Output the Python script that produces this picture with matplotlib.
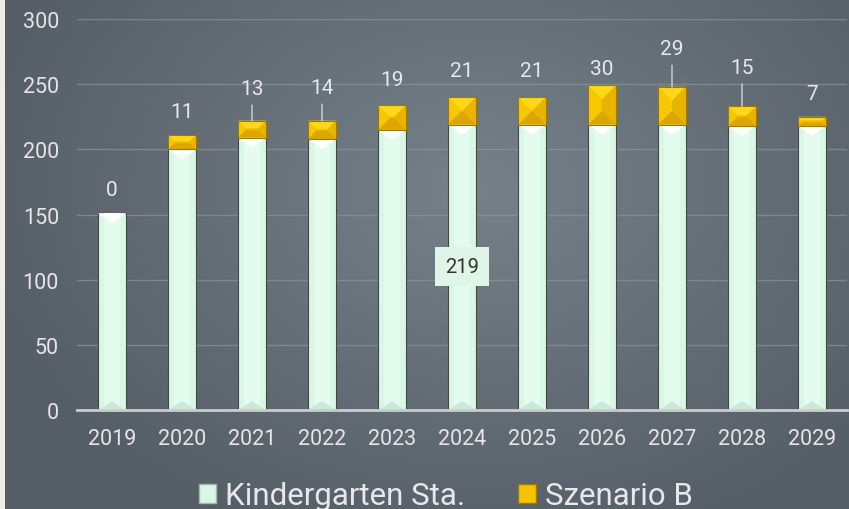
import numpy as np
import matplotlib.pyplot as plt
from matplotlib.patches import Polygon, Rectangle

jahre = ['2019', '2020', '2021', '2022', '2023', '2024', '2025', '2026', '2027', '2028', '2029']
kita = [151, 200, 209, 208, 215, 219, 219, 219, 219, 218, 218]
szenario_b = [0, 11, 13, 14, 19, 21, 21, 30, 29, 15, 7]
tooltip_jahr = '2024'

# label offsets above total (pixels) and which labels get a leader line
label_off = [24, 23, 32, 33, 26, 27, 27, 17, 38, 39, 23]
leader = [False, False, True, True, False, False, False, False, True, True, False]

plt.rcParams['font.family'] = ['Roboto', 'DejaVu Sans']

W, H = 849, 510
fig = plt.figure(figsize=(W / 100, H / 100), dpi=100)
fig.patch.set_facecolor('#eeede8')

# background gradient
bg = fig.add_axes([5 / W, 0, 1 - 5 / W, 1])
yy, xx = np.mgrid[0:H, 0:W - 5]
d = np.sqrt(((xx - 470) / 520.0) ** 2 + ((yy - 190) / 380.0) ** 2)
d = np.clip(d, 0, 1)
c0 = np.array([0x76, 0x81, 0x8a]) / 255
c1 = np.array([0x55, 0x5d, 0x66]) / 255
img = c0[None, None, :] * (1 - d[..., None]) + c1[None, None, :] * d[..., None]
bg.imshow(img, aspect='auto', extent=[0, 1, 0, 1])
bg.set_axis_off()

ax = fig.add_axes([77 / W, (H - 411) / H, 770 / W, 391 / H])
ax.set_facecolor('none')
ax.set_xlim(-0.5, len(jahre) - 0.5)
ax.set_ylim(0, 300)

px_x = 770 / len(jahre)   # pixels per x unit
px_y = 391 / 300          # pixels per y unit
bw = 0.4

x = np.arange(len(jahre))
ax.bar(x, kita, width=bw, color='#d9f7e4', edgecolor='#3e4a43', linewidth=0.8, zorder=3)
ax.bar(x, szenario_b, width=bw, bottom=kita, color='#f2bd00', edgecolor='#9c7a00',
       linewidth=0.8, zorder=3)

for i in range(len(jahre)):
    x0, x1 = i - bw / 2, i + bw / 2
    top = kita[i]
    # inner light strip of the green bar
    ax.add_patch(Rectangle((x0 + bw * 0.2, 0), bw * 0.6, top, facecolor='#e4fcee',
                           edgecolor='none', zorder=3.1))
    dep = 10 / px_y
    ax.add_patch(Polygon([(x0, top), (x1, top), (i, top - dep)], closed=True,
                         facecolor='white', edgecolor='none', zorder=3.2))
    ax.add_patch(Polygon([(x0, 0), (x1, 0), (i, 9 / px_y)], closed=True,
                         facecolor='#cbe9d7', edgecolor='none', zorder=3.2))
    # bevel on yellow segment
    h = szenario_b[i]
    if h > 0:
        hp = h * px_y
        b = min(14, hp / 2 - 1)
        bx, by = b / px_x, b / px_y
        t = top + h
        ax.add_patch(Polygon([(x0, t), (x1, t), (x1 - bx, t - by), (x0 + bx, t - by)],
                             closed=True, facecolor='#ffd81a', edgecolor='none', zorder=3.3))
        ax.add_patch(Polygon([(x0, top), (x1, top), (x1 - bx, top + by), (x0 + bx, top + by)],
                             closed=True, facecolor='#dba600', edgecolor='none', zorder=3.3))
        ax.add_patch(Polygon([(x0, top), (x0, t), (x0 + bx, t - by), (x0 + bx, top + by)],
                             closed=True, facecolor='#f7c800', edgecolor='none', zorder=3.3))
        ax.add_patch(Polygon([(x1, top), (x1, t), (x1 - bx, t - by), (x1 - bx, top + by)],
                             closed=True, facecolor='#e8b400', edgecolor='none', zorder=3.3))
        ax.add_patch(Rectangle((x0, top), bw, h, facecolor='none', edgecolor='#9c7a00',
                               linewidth=0.8, zorder=3.4))

# value labels
for i in range(len(jahre)):
    total = kita[i] + szenario_b[i]
    off = label_off[i] * 0.72
    if leader[i]:
        ax.annotate(str(szenario_b[i]), xy=(i, total), xytext=(0, off),
                    textcoords='offset points', ha='center', va='center',
                    color='#e6e8ea', fontsize=15, zorder=5, annotation_clip=False,
                    arrowprops=dict(arrowstyle='-', color='#d0d4d8', lw=1,
                                    shrinkA=3, shrinkB=0))
    else:
        ax.annotate(str(szenario_b[i]), xy=(i, total), xytext=(0, off),
                    textcoords='offset points', ha='center', va='center',
                    color='#e6e8ea', fontsize=15, zorder=5, annotation_clip=False)

# tooltip
ti = jahre.index(tooltip_jahr)
ax.text(ti, 110, str(kita[ti]), ha='center', va='center', fontsize=14.5, color='#333333',
        zorder=6, bbox=dict(boxstyle='square,pad=0.5', facecolor='#def5e7', edgecolor='none'))

ax.set_yticks([0, 50, 100, 150, 200, 250, 300])
ax.set_xticks(x)
ax.set_xticklabels(jahre)
ax.tick_params(axis='both', length=0, labelsize=15.5, colors='#e4e6e8')
ax.tick_params(axis='y', pad=13)
ax.tick_params(axis='x', pad=13)
ax.grid(axis='y', color='#8a949c', linewidth=1, alpha=0.7, zorder=0)
for s in ['top', 'right', 'left']:
    ax.spines[s].set_visible(False)
ax.spines['bottom'].set_color('#c9cdd0')
ax.spines['bottom'].set_linewidth(2)
ax.spines['bottom'].set_zorder(4)

h1 = Rectangle((0, 0), 1, 1, facecolor='#d9f7e4', edgecolor='#9fb8a8')
h2 = Rectangle((0, 0), 1, 1, facecolor='#f5c400', edgecolor='#9c7a00')
leg = fig.legend([h1, h2], ['Kindergarten Sta.', 'Szenario B'], loc='center',
                 bbox_to_anchor=(0.525, 0.026), ncol=2, frameon=False, fontsize=22.5,
                 handlelength=0.55, handleheight=0.55, handletextpad=0.3, columnspacing=1.7)
for t in leg.get_texts():
    t.set_color('#e6e8ea')

fig.savefig('out.png', dpi=100, facecolor=fig.get_facecolor())
